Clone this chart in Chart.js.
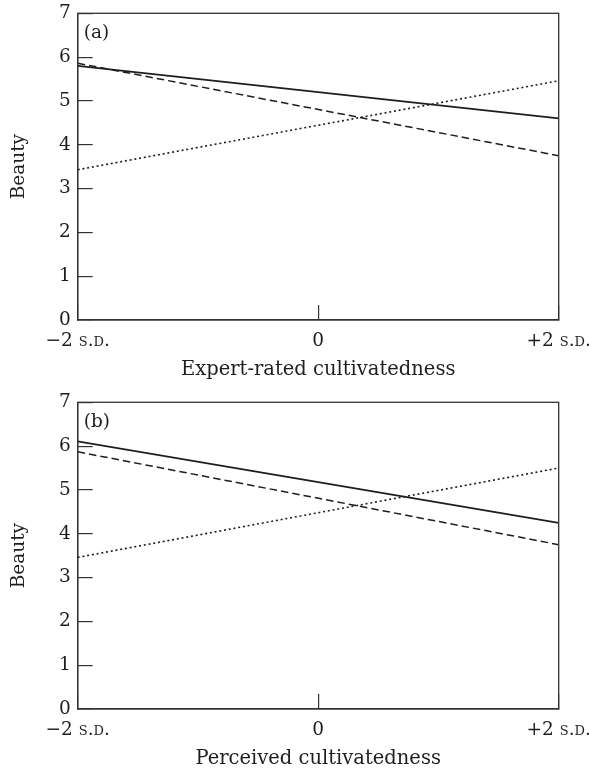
<!DOCTYPE html>
<html>
<head>
<meta charset="utf-8">
<script src="https://cdn.jsdelivr.net/npm/chart.js@4.4.1/dist/chart.umd.min.js"></script>
<style>
  body { margin: 0; background: #fff; }
  canvas { display: block; }
</style>
</head>
<body>
<canvas id="chartA" width="589" height="389"></canvas>
<canvas id="chartB" width="589" height="389"></canvas>
<script>
'use strict';

const xPoints = [-2, 2];
const xTicks = [-2, 0, 2];
const yTicks = [0, 1, 2, 3, 4, 5, 6, 7];

// panel (a): expert-rated cultivatedness
const aSolid = [5.80, 4.60];
const aDashed = [5.86, 3.75];
const aDotted = [3.43, 5.46];

// panel (b): perceived cultivatedness
const bSolid = [6.11, 4.25];
const bDashed = [5.87, 3.75];
const bDotted = [3.46, 5.50];

const FONT = 'DejaVu Serif';
const INK = '#1e1e1e';

function toPoints(values) {
    return values.map((v, i) => ({ x: xPoints[i], y: v }));
}

function tickLabel(v) {
    if (v === -2) return '\u22122 s.d.';
    if (v === 2) return '+2 s.d.';
    return String(v);
}

// frame around the plot + the panel letter
const framePlugin = {
    id: 'frame',
    afterDraw(chart, args, opts) {
        const { ctx, chartArea: a } = chart;
        ctx.save();
        ctx.strokeStyle = '#333';
        ctx.lineWidth = 1.3;
        ctx.strokeRect(a.left, a.top, a.right - a.left, a.bottom - a.top);
        ctx.fillStyle = INK;
        ctx.font = '18.5px "' + FONT + '"';
        ctx.textBaseline = 'middle';
        ctx.fillText(opts.letter, a.left + 6, a.top + 20);
        ctx.restore();
    }
};

function makeChart(id, letter, xTitle, solid, dashed, dotted) {
    let lineSet = (label, values, dash, width) => ({
        label: label,
        data: toPoints(values),
        borderColor: INK,
        borderWidth: width,
        borderDash: dash,
        pointRadius: 0,
        fill: false,
        tension: 0
    });

    return new Chart(document.getElementById(id), {
        type: 'line',
        data: {
            datasets: [
                lineSet('solid', solid, [], 1.7),
                lineSet('dashed', dashed, [7.5, 4], 1.5),
                lineSet('dotted', dotted, [2, 2.8], 1.6)
            ]
        },
        options: {
            responsive: false,
            animation: false,
            layout: { padding: { top: 13.3, right: 30.3, left: 0, bottom: 0 } },
            plugins: {
                legend: { display: false },
                tooltip: { enabled: false },
                frame: { letter: letter }
            },
            scales: {
                x: {
                    type: 'linear',
                    min: -2,
                    max: 2,
                    afterBuildTicks: (s) => { s.ticks = xTicks.map(v => ({ value: v })); },
                    afterFit: (s) => { s.height = 69; s.paddingLeft = 0; s.paddingRight = 0; },
                    ticks: {
                        color: INK,
                        padding: 25,
                        maxRotation: 0,
                        font: { family: FONT, size: 18.5, weight: 'small-caps' },
                        callback: tickLabel
                    },
                    grid: { drawOnChartArea: false, tickLength: -15, color: '#333', lineWidth: 1.2 },
                    border: { color: '#333', width: 1.3 },
                    title: {
                        display: true,
                        text: xTitle,
                        color: INK,
                        font: { family: FONT, size: 19.5 },
                        padding: { top: 0, bottom: 7 }
                    }
                },
                y: {
                    min: 0,
                    max: 7,
                    afterBuildTicks: (s) => { s.ticks = yTicks.map(v => ({ value: v })); },
                    afterFit: (s) => { s.width = 77.7; s.paddingTop = 0; s.paddingBottom = 0; },
                    ticks: {
                        color: INK,
                        padding: 22,
                        font: { family: FONT, size: 18.5 }
                    },
                    grid: { drawOnChartArea: false, tickLength: -15, color: '#333', lineWidth: 1.2 },
                    border: { color: '#333', width: 1.3 },
                    title: {
                        display: true,
                        text: 'Beauty',
                        color: INK,
                        font: { family: FONT, size: 18.5 },
                        padding: { top: 8, bottom: 0 }
                    }
                }
            }
        },
        plugins: [framePlugin]
    });
}

makeChart('chartA', '(a)', 'Expert-rated cultivatedness', aSolid, aDashed, aDotted);
makeChart('chartB', '(b)', 'Perceived cultivatedness', bSolid, bDashed, bDotted);
</script>
</body>
</html>
